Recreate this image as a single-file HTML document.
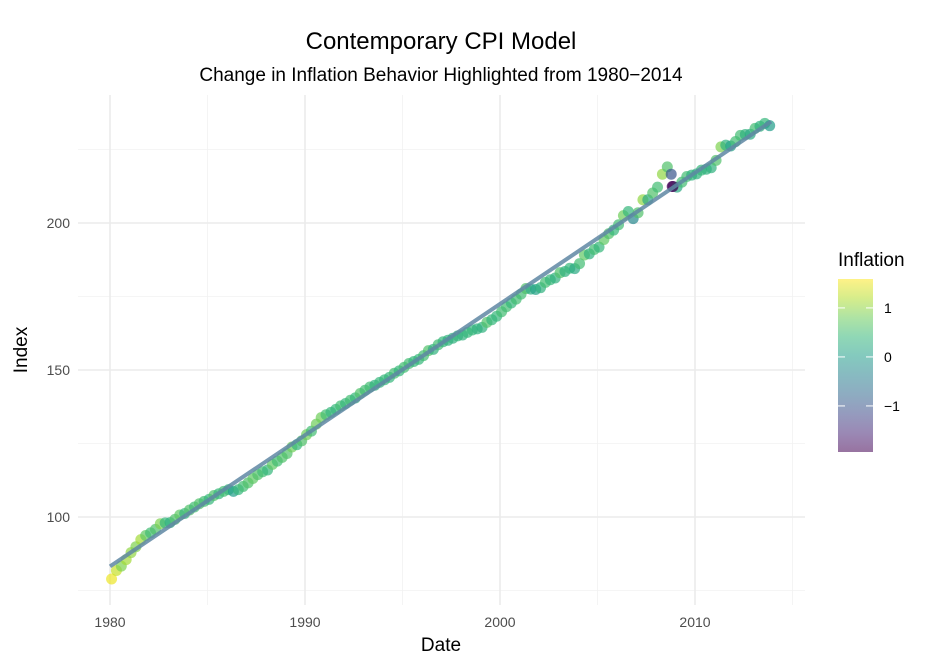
<!DOCTYPE html>
<html><head><meta charset="utf-8"><style>
body{margin:0;background:#fff;font-family:"Liberation Sans",sans-serif}
svg text{font-family:"Liberation Sans",sans-serif}
</style></head><body>
<svg id="chart" width="928" height="660" viewBox="0 0 928 660" xmlns="http://www.w3.org/2000/svg">
<text x="441" y="49" text-anchor="middle" font-size="24" fill="#000">Contemporary CPI Model</text>
<text x="441" y="81" text-anchor="middle" font-size="19" fill="#000">Change in Inflation Behavior Highlighted from 1980−2014</text>
<g id="grid"></g><g id="marks"></g><g id="axes"></g><g id="legend"></g>
<text x="441" y="651" text-anchor="middle" font-size="19">Date</text>
<text transform="translate(27,350) rotate(-90)" text-anchor="middle" font-size="19">Index</text>
</svg>
<script>
const years=[1980,1981,1982,1983,1984,1985,1986,1987,1988,1989,1990,1991,1992,1993,1994,1995,1996,1997,1998,1999,2000,2001,2002,2003,2004,2005,2006,2007,2008,2009,2010,2011,2012,2013];
const cpiValues=[78.9,81.8,83.3,85.5,87.9,89.9,92.3,93.7,94.6,95.8,97.7,98.0,98.1,99.2,100.7,101.2,102.4,103.4,104.5,105.3,106.0,107.3,107.9,108.7,109.3,108.7,109.3,110.4,111.6,113.1,114.4,115.4,116.0,117.9,119.0,120.3,121.6,123.8,124.6,125.9,128.0,129.2,131.6,133.8,134.8,135.6,136.6,137.8,138.6,139.7,140.5,142.0,143.1,144.2,144.8,145.8,146.7,147.5,148.9,149.7,150.9,152.2,152.9,153.6,154.9,156.6,157.0,158.6,159.6,160.1,160.8,161.6,161.9,162.8,163.6,164.0,164.5,166.2,167.1,168.3,169.8,171.5,172.8,174.1,175.8,177.7,177.5,177.4,178.0,179.8,180.7,181.3,183.1,183.5,184.6,184.5,186.2,189.1,189.5,191.0,191.8,194.4,196.4,197.6,199.4,202.5,203.9,201.5,203.5,207.9,207.9,210.2,212.2,216.6,219.1,212.4,212.2,213.9,215.8,216.3,216.7,218.0,218.3,218.8,221.3,225.9,226.5,226.2,227.7,229.8,230.1,230.2,232.2,232.9,233.9,233.1];
const inflationValues=[1.5,1.3,0.9,1.1,1.0,0.9,1.1,0.7,0.5,0.6,0.9,0.4,0.3,0.6,0.7,0.4,0.6,0.5,0.6,0.5,0.4,0.6,0.4,0.5,0.4,0.0,0.4,0.5,0.6,0.7,0.6,0.5,0.4,0.7,0.5,0.6,0.6,0.8,0.4,0.6,0.8,0.5,0.8,0.8,0.5,0.4,0.4,0.5,0.4,0.5,0.4,0.6,0.5,0.5,0.3,0.4,0.4,0.4,0.5,0.4,0.5,0.5,0.4,0.4,0.5,0.6,0.3,0.5,0.4,0.3,0.3,0.4,0.3,0.4,0.4,0.3,0.3,0.6,0.4,0.4,0.5,0.5,0.4,0.5,0.5,0.6,0.2,0.1,0.3,0.5,0.4,0.3,0.6,0.3,0.4,0.2,0.5,0.7,0.3,0.5,0.4,0.7,0.6,0.4,0.5,0.8,0.4,-0.3,0.6,1.0,0.2,0.6,0.5,1.0,0.6,-1.9,0.2,0.5,0.5,0.3,0.3,0.4,0.3,0.3,0.6,0.9,0.3,0.1,0.5,0.5,0.3,0.2,0.5,0.3,0.4,0.0];
const extraDates=[2008.78,2008.87];
const extraCpi=[216.6,212.4];
const extraInfl=[-1.0,-1.9];
const fitStart=[1980.0,83.2];
const fitEnd=[2013.9,234.5];
const xTicks=[1980,1990,2000,2010];
const yTicks=[100,150,200];
const legendTicks=[1,0,-1];
const NS="http://www.w3.org/2000/svg";
const X=d=>110+(d-1980)*19.5;
const Y=v=>517-(v-100)*2.94;
const L=[78,805],T=[95,605];
const vir=[[68,1,84],[72,40,120],[62,74,137],[49,104,142],[38,130,142],[31,158,137],[53,183,121],[109,205,89],[180,222,44],[253,231,37]];
const cmin=-1.94,cmax=1.59;
function col(v){let t=Math.max(0,Math.min(1,(v-cmin)/(cmax-cmin)))*(vir.length-1);let i=Math.min(Math.floor(t),vir.length-2),f=t-i;const c=vir[i].map((a,k)=>Math.round(a+(vir[i+1][k]-a)*f));return `rgb(${c})`;}
function mk(p,tag,a){const e=document.createElementNS(NS,tag);for(const k in a)e.setAttribute(k,a[k]);p.appendChild(e);return e;}
const grid=document.getElementById('grid'),marks=document.getElementById('marks'),axes=document.getElementById('axes'),leg=document.getElementById('legend');
[1985,1995,2005,2015].forEach(d=>{const l=mk(grid,'line',{x1:X(d),x2:X(d),y1:T[0],y2:T[1],stroke:'#f2f2f2','stroke-width':0.8});

});
[75,125,175,225].forEach(v=>{const l=mk(grid,'line',{x1:L[0],x2:L[1],y1:Y(v),y2:Y(v),stroke:'#f2f2f2','stroke-width':0.8});

});
xTicks.forEach(d=>{const l=mk(grid,'line',{x1:X(d),x2:X(d),y1:T[0],y2:T[1],stroke:'#ebebeb','stroke-width':1.6});


const t=mk(axes,'text',{x:X(d),y:627,'text-anchor':'middle','font-size':14,fill:'#4d4d4d'});t.textContent=d;

});
yTicks.forEach(v=>{const l=mk(grid,'line',{x1:L[0],x2:L[1],y1:Y(v),y2:Y(v),stroke:'#ebebeb','stroke-width':1.6});


const t=mk(axes,'text',{x:70,y:Y(v)+5,'text-anchor':'end','font-size':14,fill:'#4d4d4d'});t.textContent=v;

});
const pts=[];cpiValues.forEach((v,i)=>pts.push([years[Math.floor(i/4)]+(i%4)*0.25+0.08,v,inflationValues[i]]));
extraDates.forEach((d,i)=>pts.push([d,extraCpi[i],extraInfl[i]]));
pts.forEach(p=>{const c=mk(marks,'circle',{cx:X(p[0]),cy:Y(p[1]),r:5.5,fill:col(p[2]),'fill-opacity':0.7});

});
const fl=mk(marks,'line',{x1:X(fitStart[0]),y1:Y(fitStart[1]),x2:X(fitEnd[0]),y2:Y(fitEnd[1]),stroke:'#5f87a3','stroke-width':4,'stroke-opacity':0.85});


const lt=mk(leg,'text',{x:838,y:266,'font-size':19});lt.textContent='Inflation';


const defs=mk(leg,'defs',{});const g=mk(defs,'linearGradient',{id:'vg',x1:0,y1:1,x2:0,y2:0});
vir.forEach((c,i)=>mk(g,'stop',{offset:i/(vir.length-1),'stop-color':`rgb(${c})`,'stop-opacity':0.55}));
const cb=mk(leg,'rect',{x:838,y:279,width:35,height:173,fill:'url(#vg)'});


const LY=v=>279+(cmax-v)/(cmax-cmin)*173;
legendTicks.forEach(v=>{mk(leg,'line',{x1:838,x2:845,y1:LY(v),y2:LY(v),stroke:'#fff'});mk(leg,'line',{x1:866,x2:873,y1:LY(v),y2:LY(v),stroke:'#fff'});
const t=mk(leg,'text',{x:884,y:LY(v)+5,'font-size':14});t.textContent=v<0?'−'+(-v):v;

});
</script>
</body></html>
